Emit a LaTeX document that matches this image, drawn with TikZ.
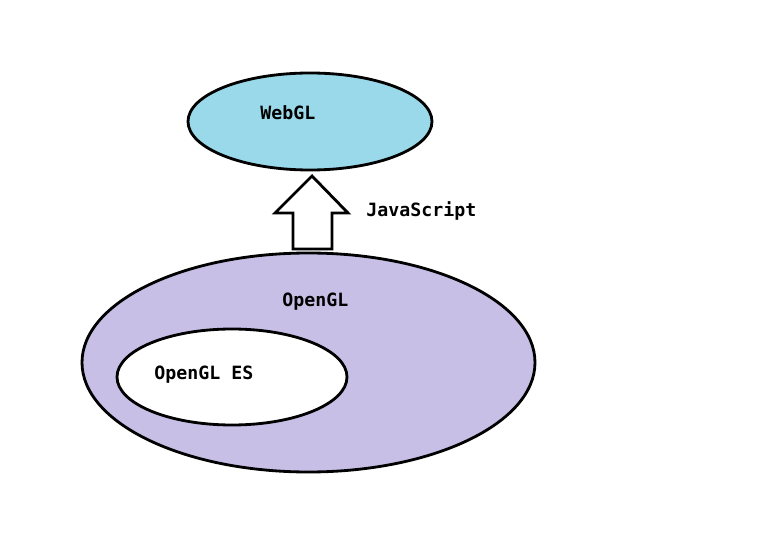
\documentclass[tikz,border=0pt]{standalone}
\usepackage{fontspec}
\setmonofont{DejaVu Sans Mono}
\usetikzlibrary{shapes.geometric}

\definecolor{webglblue}{RGB}{153,217,234}
\definecolor{opengllilac}{RGB}{200,191,231}

\begin{document}
\begin{tikzpicture}[x=0.02cm,y=-0.02cm]
    \useasboundingbox (0,0) rectangle (770,533);
    \begin{scope}[every node/.style={ellipse,line width=1.6pt,draw=black,inner sep=0pt}]
        \node[fill=opengllilac, minimum width=453*0.02cm, minimum height=219*0.02cm] (opengl) at (308.5,362.5) {};
        \node[fill=white, minimum width=230*0.02cm, minimum height=96*0.02cm] (gles) at (232,377) {};
        \node[fill=webglblue, minimum width=244*0.02cm, minimum height=97*0.02cm] (webgl) at (310,121.5) {};
    \end{scope}

    \begin{scope}[every node/.style={anchor=west,inner sep=0pt,
                  font=\ttfamily\bfseries\fontsize{10.4}{12}\selectfont}]
        \node (webgltext) at (260,113) {WebGL};
        \node (jstext) at (366,211) {JavaScript};
        \node (opengltext) at (282,302) {OpenGL};
        \node (glestext) at (154,375) {OpenGL ES};
    \end{scope}

    \draw[line width=1.6pt, fill=white, line join=miter]
        (293,249) -- (293,213) -- (275,213) -- (312,176) -- (348,213)
        -- (332,213) -- (332,249) -- cycle;
\end{tikzpicture}
\end{document}
